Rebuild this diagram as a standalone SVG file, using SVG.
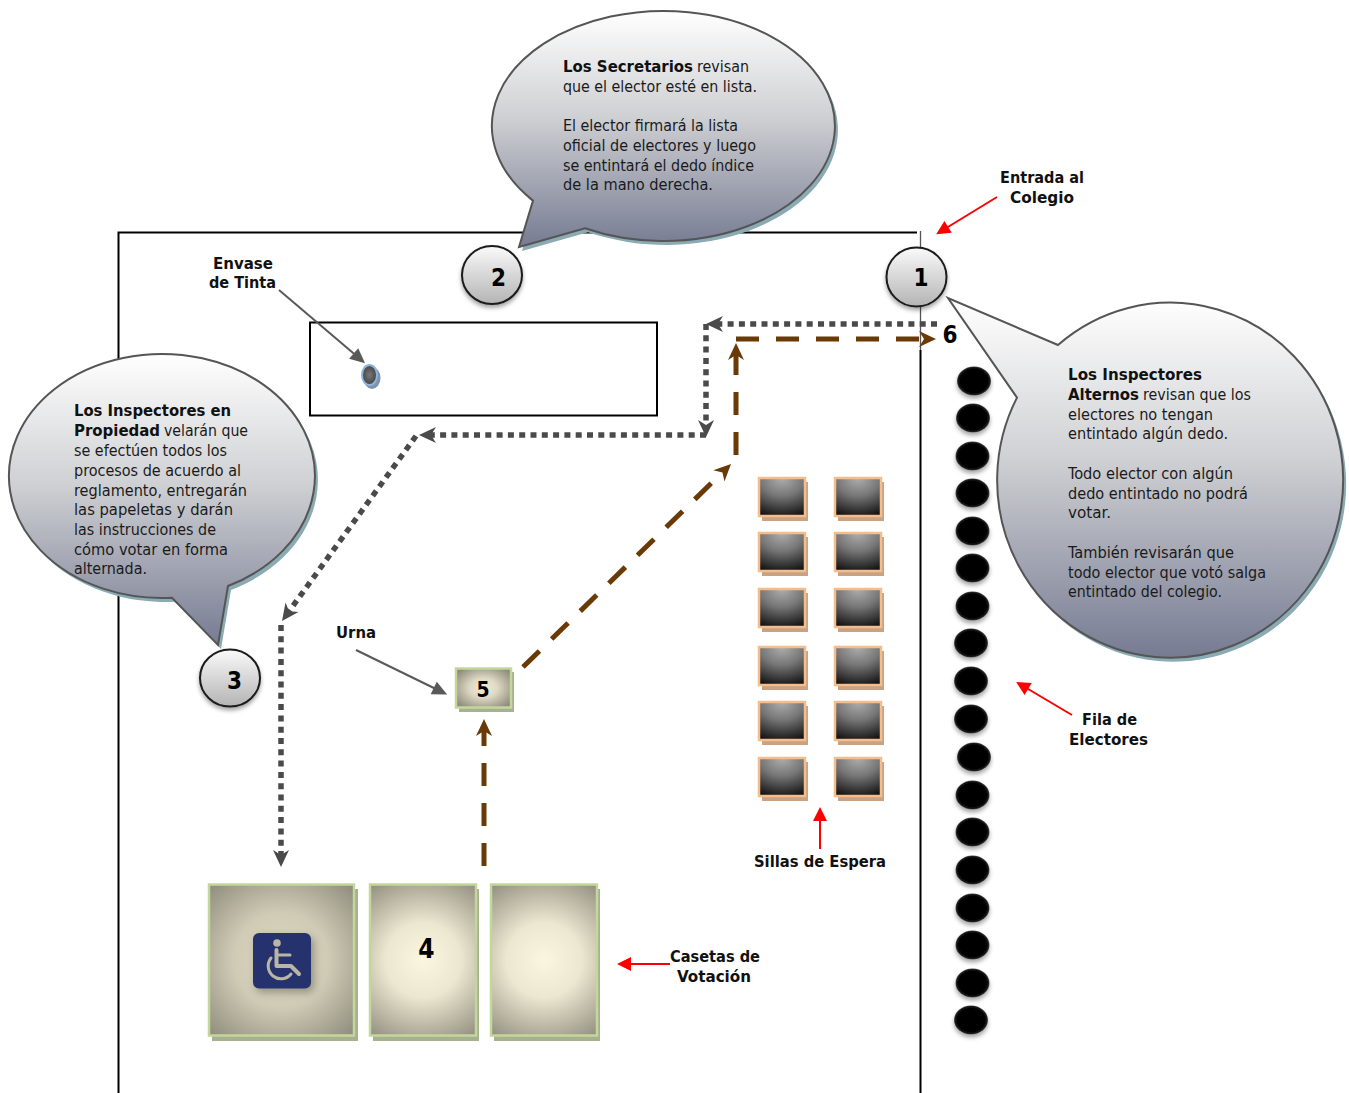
<svg xmlns="http://www.w3.org/2000/svg" width="1349" height="1093" viewBox="0 0 1349 1093">
<style>
text{font-family:"DejaVu Sans Condensed","DejaVu Sans","Liberation Sans",sans-serif;font-stretch:condensed;fill:#1a1a1a;font-size:16px}
.b{font-weight:700;fill:#111}
.n{font-weight:700;font-size:24px;fill:#000;text-anchor:middle}
.bub{fill:url(#bubG);stroke:#555;stroke-width:2;stroke-linejoin:miter}
.bubS{fill:#8aabb3;filter:url(#soft)}
.circ{fill:url(#cirG);stroke:#1a1a1a;stroke-width:2;filter:url(#ds)}
.dot{fill:none;stroke:#4a4a4a;stroke-width:5.500;stroke-dasharray:6 5.300}
.dash{fill:none;stroke:#6a3a06;stroke-width:5;stroke-dasharray:23 17}
.gl{fill:none;stroke:#595959;stroke-width:2;marker-end:url(#mTriG)}
.rl{fill:none;stroke:#f00;stroke-width:2;marker-end:url(#mTriR)}
.booth{stroke:#c3d69b;stroke-width:2.500}
.boothS{fill:#a7b08f}
.chair{stroke:#f5bd8c;stroke-width:2.500;fill:url(#chG)}
.chairS{fill:#c9a183}
.voter{fill:url(#voG);filter:url(#ds)}
</style>
<defs>
<linearGradient id="bubG" x1="0" y1="0" x2="0" y2="1"><stop offset="0" stop-color="#fff"/><stop offset=".45" stop-color="#cfd0d3"/><stop offset="1" stop-color="#767b92"/></linearGradient>
<linearGradient id="cirG" x1="0" y1="0" x2="0" y2="1"><stop offset="0" stop-color="#fafafa"/><stop offset="1" stop-color="#b4b4b4"/></linearGradient>
<radialGradient id="boothA" gradientUnits="userSpaceOnUse" cx="281" cy="960" r="105"><stop offset="0" stop-color="#dcd8c2"/><stop offset=".45" stop-color="#cfcbb5"/><stop offset="1" stop-color="#8f8b7c"/></radialGradient>
<radialGradient id="boothB" gradientUnits="userSpaceOnUse" cx="423" cy="960" r="94"><stop offset="0" stop-color="#fbf6e0"/><stop offset=".4" stop-color="#ece7d0"/><stop offset="1" stop-color="#8f8b7c"/></radialGradient>
<radialGradient id="boothC" gradientUnits="userSpaceOnUse" cx="544" cy="960" r="94"><stop offset="0" stop-color="#fbf6e0"/><stop offset=".4" stop-color="#ece7d0"/><stop offset="1" stop-color="#8f8b7c"/></radialGradient>
<radialGradient id="boothU" cx=".5" cy=".5" r=".62"><stop offset="0" stop-color="#f2edd8"/><stop offset=".4" stop-color="#ddd9c3"/><stop offset="1" stop-color="#8f8b7c"/></radialGradient>
<radialGradient id="chG" cx=".5" cy="0" r="1.050"><stop offset="0" stop-color="#aeaeae"/><stop offset=".45" stop-color="#777"/><stop offset="1" stop-color="#111"/></radialGradient>
<radialGradient id="voG" cx=".5" cy=".5" r=".5"><stop offset="0" stop-color="#000"/><stop offset=".8" stop-color="#000"/><stop offset=".93" stop-color="#181818"/><stop offset="1" stop-color="#555"/></radialGradient>
<radialGradient id="inkG"><stop offset="0" stop-color="#777"/><stop offset="1" stop-color="#444"/></radialGradient>
<filter id="soft" x="-5%" y="-5%" width="110%" height="110%"><feGaussianBlur stdDeviation=".7"/></filter>
<filter id="ds" x="-30%" y="-30%" width="160%" height="170%"><feDropShadow dx="0" dy="3" stdDeviation="2" flood-color="#000" flood-opacity=".35"/></filter>
<filter id="ds2" x="-40%" y="-40%" width="190%" height="190%"><feDropShadow dx="3" dy="4" stdDeviation="4" flood-color="#000" flood-opacity=".3"/></filter>
<marker id="mStG" markerUnits="userSpaceOnUse" markerWidth="30" markerHeight="30" refX="-9" refY="0" orient="auto" overflow="visible"><path d="M0 0L-17 -8L-12 0L-17 8Z" fill="#4a4a4a"/></marker>
<marker id="mStB" markerUnits="userSpaceOnUse" markerWidth="30" markerHeight="30" refX="-9" refY="0" orient="auto" overflow="visible"><path d="M0 0L-17 -8L-12 0L-17 8Z" fill="#6a3a06"/></marker>
<marker id="mTriG" markerUnits="userSpaceOnUse" markerWidth="20" markerHeight="20" refX="-8" refY="0" orient="auto" overflow="visible"><path d="M0 0L-15 -7L-15 7Z" fill="#595959"/></marker>
<marker id="mTriR" markerUnits="userSpaceOnUse" markerWidth="20" markerHeight="20" refX="-8" refY="0" orient="auto" overflow="visible"><path d="M0 0L-14 -7L-14 7Z" fill="#f00"/></marker>
</defs>

<g id="building" fill="none" stroke="#000" stroke-width="2">
<path d="M917 232.500H118.500V1093"/>
<path d="M920.500 350V1093"/>
<path d="M920.500 231V350" stroke="#555" stroke-width="1.300"/>
</g>
<g id="mesa"><rect x="310" y="322.500" width="347" height="93" fill="#fff" stroke="#000" stroke-width="2"/></g>

<g id="connectors">
<path class="dot" d="M937 324H715" marker-end="url(#mStG)"/>
<path class="dot" d="M706 324V428" marker-end="url(#mStG)"/>
<path class="dot" d="M706 435H428" marker-end="url(#mStG)"/>
<path class="dot" d="M416 436L287.300 613.700" marker-end="url(#mStG)"/>
<path class="dot" d="M281 625V858" marker-end="url(#mStG)"/>
<path class="dash" d="M484 866V728" marker-end="url(#mStB)"/>
<path class="dash" d="M523 667L724.600 470.300" marker-end="url(#mStB)"/>
<path class="dash" d="M736 455V352" marker-end="url(#mStB)"/>
<path class="dash" d="M736 339H927" marker-end="url(#mStB)"/>
<path class="gl" d="M279 290L359 358"/>
<path class="gl" d="M356 650L440 691"/>
<path class="rl" d="M997 197L943 230"/>
<path class="rl" d="M1072 715L1023 686"/>
<path class="rl" d="M820 849V815"/>
<path class="rl" d="M670 964H625"/>
</g>

<g id="bubble-2">
<path class="bubS" transform="translate(3 4)" d="M533 200.600L519 247L585 228.200A171.500 115 0 1 0 533 200.600Z"/>
<path class="bub" d="M533 200.600L519 247L585 228.200A171.500 115 0 1 0 533 200.600Z"/>
<text y="72"><tspan class="b" x="563" textLength="130" lengthAdjust="spacingAndGlyphs">Los Secretarios</tspan><tspan x="697" textLength="52" lengthAdjust="spacingAndGlyphs">revisan</tspan></text>
<text x="563" y="92" textLength="194" lengthAdjust="spacingAndGlyphs">que el elector esté en lista.</text>
<text x="563" y="131" textLength="175" lengthAdjust="spacingAndGlyphs">El elector firmará la lista</text>
<text x="563" y="151" textLength="193" lengthAdjust="spacingAndGlyphs">oficial  de electores y luego</text>
<text x="563" y="171" textLength="191" lengthAdjust="spacingAndGlyphs">se entintará el dedo índice</text>
<text x="563" y="190" textLength="150" lengthAdjust="spacingAndGlyphs">de la mano derecha.</text>
</g>

<g id="bubble-3">
<path class="bubS" transform="translate(3 4)" d="M228 586L218 645L172 597.700A153 122 0 1 1 228 586Z"/>
<path class="bub" d="M228 586L218 645L172 597.700A153 122 0 1 1 228 586Z"/>
<text class="b" x="74" y="416" textLength="157" lengthAdjust="spacingAndGlyphs">Los Inspectores en</text>
<text y="436"><tspan class="b" x="74" textLength="86" lengthAdjust="spacingAndGlyphs">Propiedad</tspan><tspan x="164" textLength="84" lengthAdjust="spacingAndGlyphs">velarán que</tspan></text>
<text x="74" y="456" textLength="153" lengthAdjust="spacingAndGlyphs">se efectúen todos los</text>
<text x="74" y="476" textLength="167" lengthAdjust="spacingAndGlyphs">procesos de acuerdo al</text>
<text x="74" y="496" textLength="173" lengthAdjust="spacingAndGlyphs">reglamento, entregarán</text>
<text x="74" y="515" textLength="159" lengthAdjust="spacingAndGlyphs">las papeletas y darán</text>
<text x="74" y="535" textLength="142" lengthAdjust="spacingAndGlyphs">las instrucciones de</text>
<text x="74" y="555" textLength="154" lengthAdjust="spacingAndGlyphs">cómo votar en forma</text>
<text x="74" y="574" textLength="73" lengthAdjust="spacingAndGlyphs">alternada.</text>
</g>

<g id="bubble-1">
<path class="bubS" transform="translate(3 4)" d="M1017 397.600L948 298L1058 345A173 177.500 0 1 1 1017 397.600Z"/>
<path class="bub" d="M1017 397.600L948 298L1058 345A173 177.500 0 1 1 1017 397.600Z"/>
<text class="b" x="1068" y="380" textLength="134" lengthAdjust="spacingAndGlyphs">Los Inspectores</text>
<text y="400"><tspan class="b" x="1068" textLength="71" lengthAdjust="spacingAndGlyphs">Alternos</tspan><tspan x="1143" textLength="108" lengthAdjust="spacingAndGlyphs">revisan que los</tspan></text>
<text x="1068" y="420" textLength="145" lengthAdjust="spacingAndGlyphs">electores no tengan</text>
<text x="1068" y="439" textLength="160" lengthAdjust="spacingAndGlyphs">entintado algún dedo.</text>
<text x="1068" y="479" textLength="165" lengthAdjust="spacingAndGlyphs">Todo elector con algún</text>
<text x="1068" y="499" textLength="180" lengthAdjust="spacingAndGlyphs">dedo entintado no podrá</text>
<text x="1068" y="518" textLength="43" lengthAdjust="spacingAndGlyphs">votar.</text>
<text x="1068" y="558" textLength="166" lengthAdjust="spacingAndGlyphs">También revisarán que</text>
<text x="1068" y="578" textLength="198" lengthAdjust="spacingAndGlyphs">todo elector que votó salga</text>
<text x="1068" y="597" textLength="154" lengthAdjust="spacingAndGlyphs">entintado del colegio.</text>
</g>

<g id="step-1"><ellipse class="circ" cx="916.500" cy="277" rx="30" ry="29.500"/><text class="n" x="921" y="286">1</text></g>
<g id="step-2"><ellipse class="circ" cx="492" cy="275" rx="30" ry="29"/><text class="n" x="498.500" y="286">2</text></g>
<g id="step-3"><ellipse class="circ" cx="230" cy="678" rx="30" ry="28.500"/><text class="n" x="234.500" y="689">3</text></g>
<g id="step-6"><text class="n" x="950" y="343">6</text></g>

<g id="envase">
<ellipse cx="372" cy="378" rx="8.500" ry="11" fill="#7d93ad"/>
<ellipse cx="369.500" cy="375" rx="7.500" ry="10" fill="url(#inkG)" stroke="#8fb3da" stroke-width="2"/>
</g>
<g id="urna">
<rect class="boothS" x="459" y="672" width="55" height="40"/>
<rect class="booth" fill="url(#boothU)" x="456" y="668.500" width="55" height="39"/>
<text class="n" x="483" y="697" style="font-size:21px">5</text>
</g>

<g id="caseta-accesible">
<rect class="boothS" x="212" y="889" width="146" height="152"/>
<rect class="booth" fill="url(#boothA)" x="209" y="884.500" width="145" height="151"/>
<rect x="253" y="933" width="58" height="55.500" rx="6" fill="#26316e" filter="url(#ds2)"/>
<g fill="none" stroke="#b9b6a5" stroke-width="3" stroke-linecap="round" stroke-linejoin="round">
<circle cx="277" cy="943" r="3.800" fill="#b9b6a5" stroke="none"/>
<path d="M276.500 950V966H291L299 974" stroke-width="4"/>
<path d="M277 955H290"/>
<path d="M271 958A12 12 0 1 0 291 974"/>
</g>
</g>
<g id="caseta-4">
<rect class="boothS" x="373" y="889" width="106" height="152"/>
<rect class="booth" fill="url(#boothB)" x="370" y="884.500" width="106" height="151"/>
<text class="n" x="426.500" y="958" style="font-size:26px">4</text>
</g>
<g id="caseta-3">
<rect class="boothS" x="494" y="889" width="106" height="152"/>
<rect class="booth" fill="url(#boothC)" x="491" y="884.500" width="106" height="151"/>
</g>

<g id="sillas">
<g class="chairS">
<rect x="762" y="482" width="46" height="39"/><rect x="838" y="482" width="46" height="39"/>
<rect x="762" y="537" width="46" height="39"/><rect x="838" y="537" width="46" height="39"/>
<rect x="762" y="593" width="46" height="39"/><rect x="838" y="593" width="46" height="39"/>
<rect x="762" y="651" width="46" height="39"/><rect x="838" y="651" width="46" height="39"/>
<rect x="762" y="706" width="46" height="39"/><rect x="838" y="706" width="46" height="39"/>
<rect x="762" y="762" width="46" height="39"/><rect x="838" y="762" width="46" height="39"/>
</g>
<g class="chair">
<rect x="759" y="478" width="46" height="38"/><rect x="835" y="478" width="46" height="38"/>
<rect x="759" y="533" width="46" height="38"/><rect x="835" y="533" width="46" height="38"/>
<rect x="759" y="589" width="46" height="38"/><rect x="835" y="589" width="46" height="38"/>
<rect x="759" y="647" width="46" height="38"/><rect x="835" y="647" width="46" height="38"/>
<rect x="759" y="702" width="46" height="38"/><rect x="835" y="702" width="46" height="38"/>
<rect x="759" y="758" width="46" height="38"/><rect x="835" y="758" width="46" height="38"/>
</g>
</g>

<g id="fila">
<ellipse class="voter" cx="974" cy="381" rx="17" ry="14.500"/>
<ellipse class="voter" cx="973" cy="418" rx="17" ry="14.500"/>
<ellipse class="voter" cx="972.500" cy="456" rx="17" ry="14.500"/>
<ellipse class="voter" cx="972.500" cy="493" rx="17" ry="14.500"/>
<ellipse class="voter" cx="972.500" cy="531" rx="17" ry="14.500"/>
<ellipse class="voter" cx="972.500" cy="568" rx="17" ry="14.500"/>
<ellipse class="voter" cx="972.500" cy="606" rx="17" ry="14.500"/>
<ellipse class="voter" cx="971" cy="643" rx="17" ry="14.500"/>
<ellipse class="voter" cx="971" cy="681" rx="17" ry="14.500"/>
<ellipse class="voter" cx="971" cy="719" rx="17" ry="14.500"/>
<ellipse class="voter" cx="974" cy="757" rx="17" ry="14.500"/>
<ellipse class="voter" cx="972.500" cy="795" rx="17" ry="14.500"/>
<ellipse class="voter" cx="972.500" cy="832" rx="17" ry="14.500"/>
<ellipse class="voter" cx="972.500" cy="870" rx="17" ry="14.500"/>
<ellipse class="voter" cx="972.500" cy="908" rx="17" ry="14.500"/>
<ellipse class="voter" cx="972.500" cy="945" rx="17" ry="14.500"/>
<ellipse class="voter" cx="972.500" cy="983" rx="17" ry="14.500"/>
<ellipse class="voter" cx="971" cy="1020" rx="17" ry="14.500"/>
</g>

<g id="labels">
<text class="b" x="1000" y="183" textLength="84" lengthAdjust="spacingAndGlyphs">Entrada al</text>
<text class="b" x="1010" y="203" textLength="64" lengthAdjust="spacingAndGlyphs">Colegio</text>
<text class="b" x="213" y="269" textLength="60" lengthAdjust="spacingAndGlyphs">Envase</text>
<text class="b" x="209" y="288" textLength="67" lengthAdjust="spacingAndGlyphs">de Tinta</text>
<text class="b" x="336" y="638" textLength="40" lengthAdjust="spacingAndGlyphs">Urna</text>
<text class="b" x="754" y="867" textLength="132" lengthAdjust="spacingAndGlyphs">Sillas de Espera</text>
<text class="b" x="670" y="962" textLength="90" lengthAdjust="spacingAndGlyphs">Casetas de</text>
<text class="b" x="677" y="982" textLength="74" lengthAdjust="spacingAndGlyphs">Votación</text>
<text class="b" x="1082" y="725" textLength="55" lengthAdjust="spacingAndGlyphs">Fila de</text>
<text class="b" x="1069" y="745" textLength="79" lengthAdjust="spacingAndGlyphs">Electores</text>
</g>
</svg>
